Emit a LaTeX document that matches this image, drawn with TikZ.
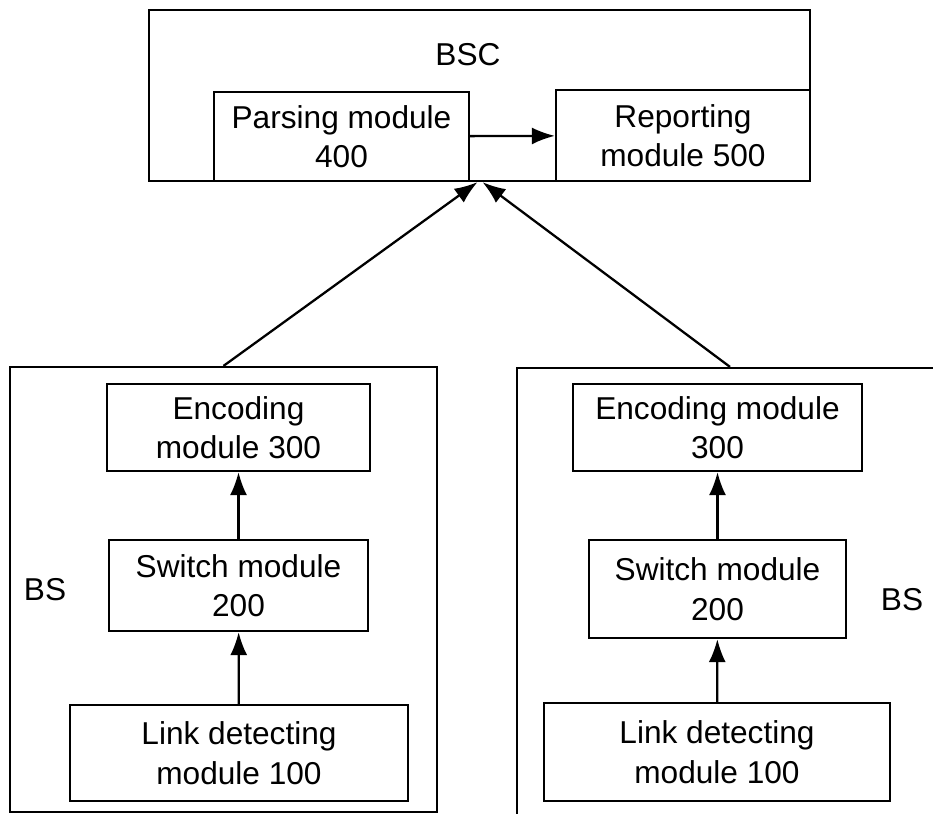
\documentclass[tikz,border=0pt]{standalone}
\usepackage{fontspec}
\setmainfont{Liberation Sans}
\usepackage{tikz}
\usetikzlibrary{arrows.meta, positioning}
\tikzstyle{module} = [rectangle, minimum height=1.78cm, text centered, align=center, draw=black, line width=1.3pt, inner sep=0pt, font=\fontsize{18}{22.5}\selectfont]
\tikzstyle{frame} = [rectangle, draw=black, line width=1.3pt, inner sep=0pt]
\tikzstyle{tag} = [inner sep=0pt, font=\fontsize{18}{22.5}\selectfont]
\tikzstyle{arrow} = [line width=1.3pt,-{Latex[length=4.6mm,width=3.4mm]}]

\begin{document}
\begin{tikzpicture}[x=0.02cm, y=-0.02cm]
	    	\clip (0,0) rectangle (933,814);
	    	% BSC side
	    	\node (bsc) [frame, minimum width=13.22cm, minimum height=3.42cm] at (479.5,95.5) {};
	    	\node (bscTag) [tag] at (468,55) {BSC};
	    	\node (proParsing) [module, minimum width=5.1cm] at (341.5,136.5) {Parsing module\\400};
	    	\node (proReporting) [module, minimum width=5.08cm, minimum height=1.82cm] at (683,135.5) {Reporting\\module 500};
	    	
	    	% BS frames
	    	\node (bsLeft) [frame, minimum width=8.54cm, minimum height=8.9cm] at (223.5,589.5) {};
	    	\node (bsRight) [frame, minimum width=8.56cm, minimum height=9.5cm] at (731,605.5) {};
	    	\node (bsLeftTag) [tag] at (45,590) {BS};
	    	\node (bsRightTag) [tag] at (902,600) {BS};
	    	
	    	% left BS
	    	\node (proEncLeft) [module, minimum width=5.26cm, minimum height=1.74cm] at (238.5,427.5) {Encoding\\module 300};
	    	\node (proSwLeft) [module, minimum width=5.18cm, minimum height=1.82cm] at (238.5,585.5) {Switch module\\200};
	    	\node (proLinkLeft) [module, minimum width=6.76cm, minimum height=1.92cm] at (239,753) {Link detecting\\module 100};
	    	
	    	% right BS
	    	\node (proEncRight) [module, minimum width=5.78cm, minimum height=1.74cm] at (717.5,427.5) {Encoding module\\300};
	    	\node (proSwRight) [module, minimum width=5.14cm, minimum height=1.96cm] at (717.5,589) {Switch module\\200};
	    	\node (proLinkRight) [module, minimum width=6.92cm, minimum height=1.96cm] at (717,752) {Link detecting\\module 100};
	    	
	    	\draw [arrow] (proParsing) -- (proReporting);
	    	\draw [arrow] (bsLeft.north) -- ([xshift=-0.04cm]bsc.south);
	    	\draw [arrow] ([xshift=-0.02cm]bsRight.north) -- ([xshift=0.06cm]bsc.south);
	    	\draw [arrow] (proLinkLeft) -- (proSwLeft);
	    	\draw [arrow] (proSwLeft) -- (proEncLeft);
	    	\draw [arrow] (proLinkRight) -- (proSwRight);
	    	\draw [arrow] (proSwRight) -- (proEncRight);
    	\end{tikzpicture}
\end{document}
